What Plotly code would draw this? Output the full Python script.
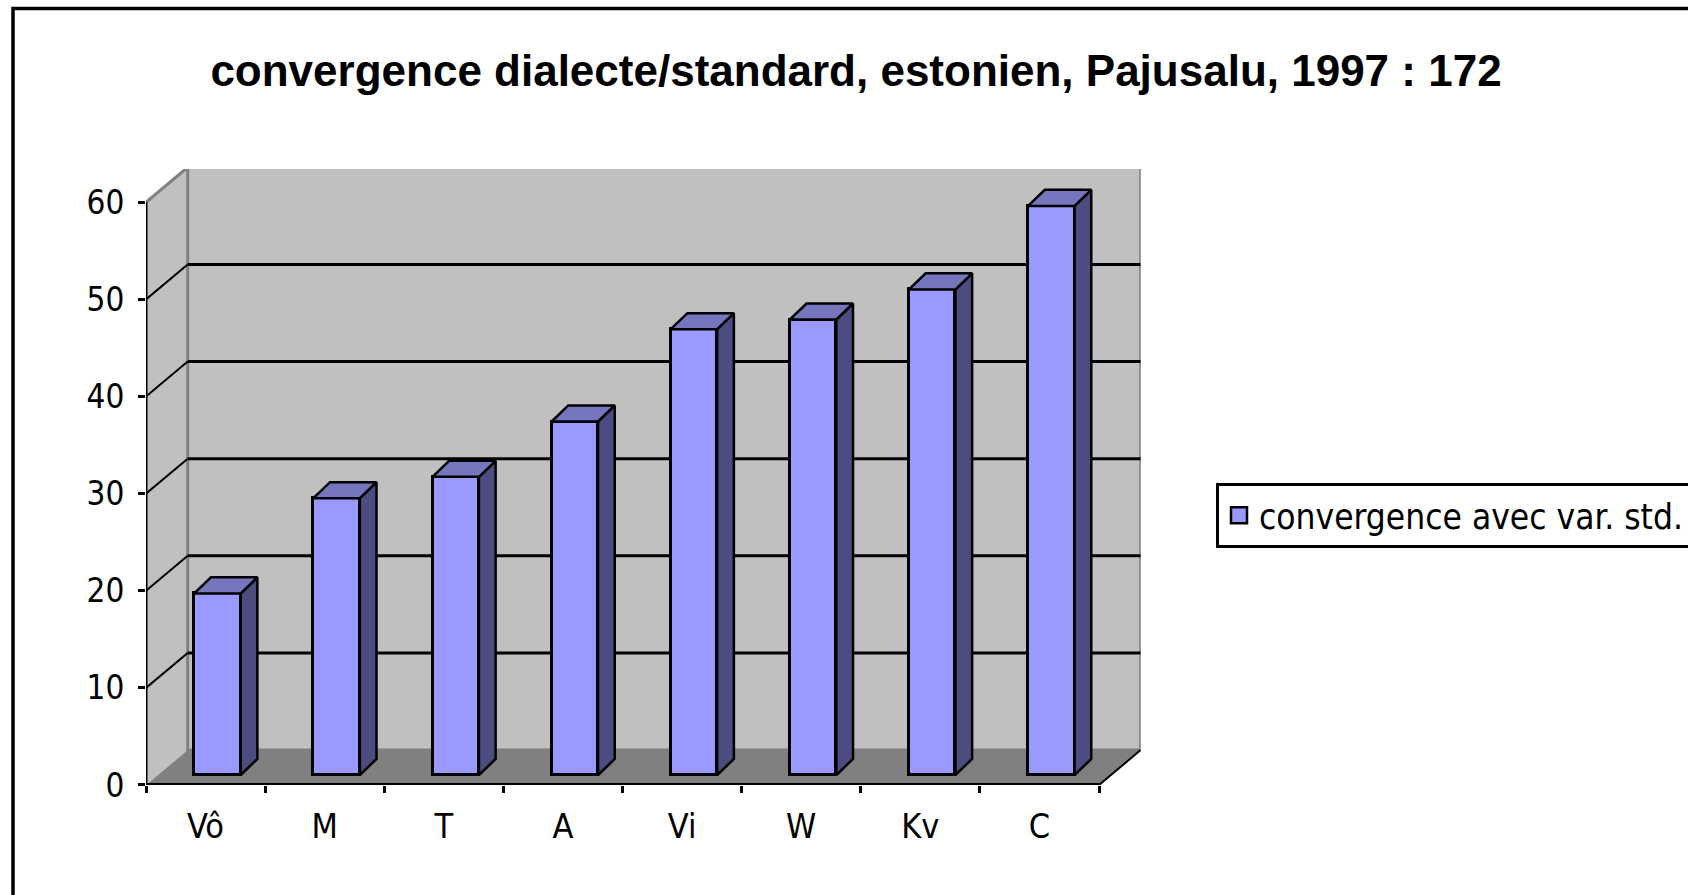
import plotly.graph_objects as go

# ---------------- data ----------------
categories = ["Vô", "M", "T", "A", "Vi", "W", "Kv", "C"]
values = [18.7, 28.5, 30.7, 36.4, 45.9, 46.9, 50.0, 58.6]
y_ticks = [0, 10, 20, 30, 40, 50, 60]
series_name = "convergence avec var. std."
title_text = "convergence dialecte/standard, estonien, Pajusalu, 1997 : 172"

# ---------------- geometry / style ----------------
W, H = 1688, 895
PX_X0, PX_PER_X = 146.0, 119.125      # front x-axis origin (px) and px per category
PX_Y0, PX_PER_Y = 785.0, 9.712        # front y=0 (px) and px per unit
X_MAX, Y_MAX = 8.35, 63.43            # axis ranges (include back-wall depth)
DX, DY = 0.35, 3.6                    # depth of walls in data units
FX, FY = 0.10, 1.03                   # depth shift of bar front faces
BW = 0.39                             # bar width
BX, BY = 0.14, 1.65                   # bar depth

FRONT = "#9999FF"
TOPC = "#7676BF"
SIDE = "#4C4C80"
WALL = "#C0C0C0"
FLOOR = "#808080"
EDGE = "#808080"
NARROW = "DejaVu Sans Condensed, Liberation Sans Narrow, Arial Narrow, sans-serif"

n = len(categories)
ytop = max(y_ticks)

xdom = [PX_X0 / W, (PX_X0 + X_MAX * PX_PER_X) / W]
ydom = [1 - PX_Y0 / H, 1 - (PX_Y0 - Y_MAX * PX_PER_Y) / H]

fig = go.Figure()

# front faces of the bars
bar_x = [i + 0.5 + FX for i in range(n)]
fig.add_trace(go.Bar(
    x=bar_x, y=values, base=FY, width=BW,
    marker=dict(color=FRONT, line=dict(color="black", width=3)),
    name=series_name, showlegend=False, hoverinfo="skip",
))

# top and side faces
tx, ty, sx, sy = [], [], [], []
for cx, v in zip(bar_x, values):
    xl, xr = cx - BW / 2, cx + BW / 2
    top = FY + v
    tx += [xl, xr, xr + BX, xl + BX, xl, None]
    ty += [top, top, top + BY, top + BY, top, None]
    sx += [xr, xr + BX, xr + BX, xr, xr, None]
    sy += [FY, FY + BY, top + BY, top, FY, None]

fig.add_trace(go.Scatter(x=sx, y=sy, mode="lines", fill="toself", fillcolor=SIDE,
                         line=dict(color="black", width=2.5), showlegend=False,
                         hoverinfo="skip"))
fig.add_trace(go.Scatter(x=tx, y=ty, mode="lines", fill="toself", fillcolor=TOPC,
                         line=dict(color="black", width=2.5), showlegend=False,
                         hoverinfo="skip"))

# legend entry for the series (square swatch)
fig.add_trace(go.Scatter(x=[None], y=[None], mode="markers", name=series_name,
                         marker=dict(symbol="square", size=16, color=FRONT,
                                     line=dict(color="black", width=2.5)),
                         showlegend=True, hoverinfo="skip"))

# invisible trace to activate the tick-mark axis
fig.add_trace(go.Scatter(x=[0], y=[0], xaxis="x2", mode="markers",
                         marker=dict(opacity=0), showlegend=False, hoverinfo="skip"))

shapes = []
# left wall
shapes.append(dict(type="path", xref="x", yref="y", layer="below",
                   path=f"M 0,0 L {DX},{DY} L {DX},{ytop + DY} L 0,{ytop} Z",
                   fillcolor=WALL, line=dict(width=0)))
# back wall
shapes.append(dict(type="rect", xref="x", yref="y", layer="below",
                   x0=DX, y0=DY, x1=n + DX, y1=ytop + DY,
                   fillcolor=WALL, line=dict(color=EDGE, width=3)))
shapes.append(dict(type="line", xref="x", yref="y", layer="below",
                   x0=0, y0=ytop, x1=DX, y1=ytop + DY, line=dict(color=EDGE, width=3)))
# gridlines
for v in y_ticks[1:-1]:
    shapes.append(dict(type="line", xref="x", yref="y", layer="below",
                       x0=DX, y0=v + DY, x1=n + DX, y1=v + DY,
                       line=dict(color="black", width=3)))
    shapes.append(dict(type="line", xref="x", yref="y", layer="below",
                       x0=0, y0=v, x1=DX, y1=v + DY,
                       line=dict(color="black", width=2)))
# floor
shapes.append(dict(type="path", xref="x", yref="y", layer="below",
                   path=f"M 0,0 L {n},0 L {n + DX},{DY} L {DX},{DY} Z",
                   fillcolor=FLOOR, line=dict(width=0)))
shapes.append(dict(type="line", xref="x", yref="y", layer="above",
                   x0=n, y0=0, x1=n + DX, y1=DY, line=dict(color="black", width=2)))
# front axes
shapes.append(dict(type="line", xref="x", yref="y", layer="above",
                   x0=0, y0=0, x1=0, y1=ytop, line=dict(color="black", width=3)))
shapes.append(dict(type="line", xref="x", yref="y", layer="above",
                   x0=0, y0=0, x1=n, y1=0, line=dict(color="black", width=4)))
# outer frame of the chart
shapes.append(dict(type="rect", xref="paper", yref="paper", layer="above",
                   x0=13 / W, y0=-0.05, x1=1.05, y1=1 - 8.5 / H,
                   line=dict(color="black", width=3.5), fillcolor="rgba(0,0,0,0)"))

fig.update_layout(
    width=W, height=H, autosize=False,
    margin=dict(l=0, r=0, t=0, b=0, pad=0, autoexpand=False),
    paper_bgcolor="white", plot_bgcolor="rgba(0,0,0,0)",
    shapes=shapes,
    bargap=0,
    title=dict(text=title_text, x=856 / W, xanchor="center", y=1 - 70.5 / H,
               yanchor="middle", xref="paper", yref="paper",
               font=dict(family="Liberation Sans, Arial, sans-serif", size=44,
                         color="black", weight="bold")),
    xaxis=dict(domain=xdom, range=[0, X_MAX], tickmode="array",
               tickvals=[i + 0.5 for i in range(n)], ticktext=categories,
               ticks="", showgrid=False, zeroline=False, showline=False,
               ticklabelstandoff=18,
               tickfont=dict(family=NARROW, size=34, color="black")),
    xaxis2=dict(domain=xdom, range=[0, X_MAX], overlaying="x", anchor="y",
                side="bottom", tickmode="array", tickvals=list(range(n + 1)),
                ticks="outside", ticklen=7, tickwidth=3, tickcolor="black",
                showticklabels=False, showgrid=False, zeroline=False, showline=False),
    yaxis=dict(domain=ydom, range=[0, Y_MAX], tickmode="array",
               tickvals=y_ticks, ticktext=[str(t) for t in y_ticks],
               ticks="outside", ticklen=7, tickwidth=3, tickcolor="black",
               ticklabelstandoff=7,
               showgrid=False, zeroline=False, showline=False,
               tickfont=dict(family=NARROW, size=33, color="black")),
    legend=dict(x=1216 / W, y=1 - 483 / H, xanchor="left", yanchor="top",
                bgcolor="white", bordercolor="black", borderwidth=3,
                font=dict(family=NARROW, size=35, color="black"),
                itemclick=False, itemdoubleclick=False),
    showlegend=True,
)

fig.write_html("out.html", config={"displayModeBar": False},
               post_script="document.body.style.margin='0';document.body.style.overflow='hidden';")
